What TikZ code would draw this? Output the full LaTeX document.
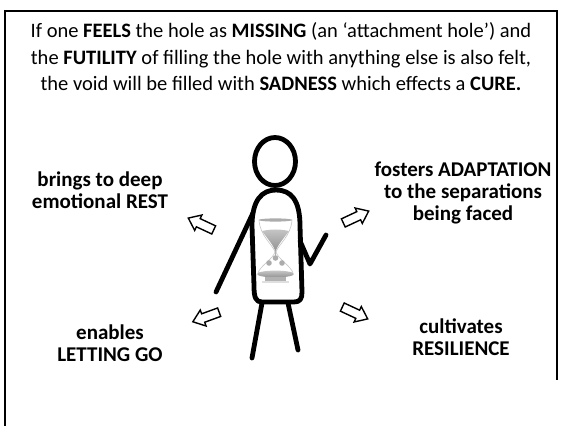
\documentclass[tikz,border=0pt]{standalone}
\usepackage{fontspec}
\setmainfont{Carlito}
\begin{document}
\begin{tikzpicture}[x=1pt,y=1pt,
  figline/.style={line width=4.8pt, line cap=round, line join=round},
  lbl/.style={font=\fontsize{21}{22}\selectfont\bfseries, align=center, inner sep=0},
  hollow/.style={draw, line width=1.4pt, line join=miter, fill=white},
  glass/.style={draw=gray!45, line width=0.6pt},
  pics/blockarrow/.style={code={
    \draw[hollow] (-14,-4.5) -- (3,-4.5) -- (3,-8.5) -- (14,0) -- (3,8.5) -- (3,4.5) -- (-14,4.5) -- cycle;}}]
\useasboundingbox (0,0) rectangle (563,426);

% frame
\draw[line width=2.6pt] (5,0) -- (5,415) -- (557,415) -- (557,46);

% heading text
\node[font=\fontsize{20.5}{26.5}\selectfont, align=center, inner sep=0] (claim) at (281,369)
  {If one \textbf{FEELS} the hole as \textbf{MISSING} (an ‘attachment hole’) and\\
   the \textbf{FUTILITY} of filling the hole with anything else is also felt,\\
   the void will be filled with \textbf{SADNESS} which effects a \textbf{CURE.}};

% stick figure
\draw[figline] (275,264.5) ellipse [x radius=20.5, y radius=24];
\draw[figline] (254,140) -- (252,200) .. controls (252,226) and (262,236) .. (276,236)
  .. controls (291,236) and (300,226) .. (300,200) -- (302,134)
  .. controls (302,127) and (300,124) .. (294,124) -- (262,124)
  .. controls (256,124) and (254,128) .. (254,140) -- cycle;
\draw[figline] (253,213) -- (216,134);
\draw[figline] (300,185) -- (310,162) -- (326,191);
\draw[figline] (262,123) -- (252,68);
\draw[figline] (288,123) -- (298,76);

% hourglass
\draw[glass] (259,206) .. controls (260,190) and (273,181) .. (275,174)
  .. controls (273,167) and (260,160) .. (258,153);
\draw[glass] (292,206) .. controls (291,190) and (278,181) .. (276,174)
  .. controls (278,167) and (291,160) .. (293,153);
\fill[gray!65] (275.5,206) ellipse [x radius=17, y radius=1.6];
\shade[top color=gray!45, bottom color=gray!85]
  (262,195) .. controls (268,187) and (273,181) .. (275.5,175)
  .. controls (278,181) and (283,187) .. (289,195)
  .. controls (280,197) and (271,197) .. (262,195) -- cycle;
\draw[gray!60, line width=0.8pt] (275.5,175) -- (275.5,170);
\fill[gray!65] (275.5,168) circle [radius=2.8];
\fill[gray!65] (269,163) circle [radius=2.8];
\fill[gray!65] (282,163) circle [radius=2.8];
\shade[top color=gray!45, bottom color=gray!85] (275.5,152) ellipse [x radius=18.5, y radius=3.4];
\fill[gray!60] (265,149) rectangle (286,145);
\fill[gray!25] (262,145) rectangle (289,143);

% surrounding arrows
\pic[rotate=155] (arrowNW) at (201,202) {blockarrow};
\pic[rotate=25]  (arrowNE) at (356,209) {blockarrow};
\pic[rotate=200] (arrowSW) at (206,109) {blockarrow};
\pic[rotate=-25] (arrowSE) at (355,113) {blockarrow};

% effects
\node[lbl] (rest) at (100,236) {brings to deep\\emotional REST};
\node[lbl] (adapt) at (463,233) {fosters ADAPTATION\\to the separations\\being faced};
\node[lbl] (letgo) at (110,83) {enables\\LETTING GO};
\node[lbl] (resil) at (461,89) {cultivates\\RESILIENCE};
\end{tikzpicture}
\end{document}
